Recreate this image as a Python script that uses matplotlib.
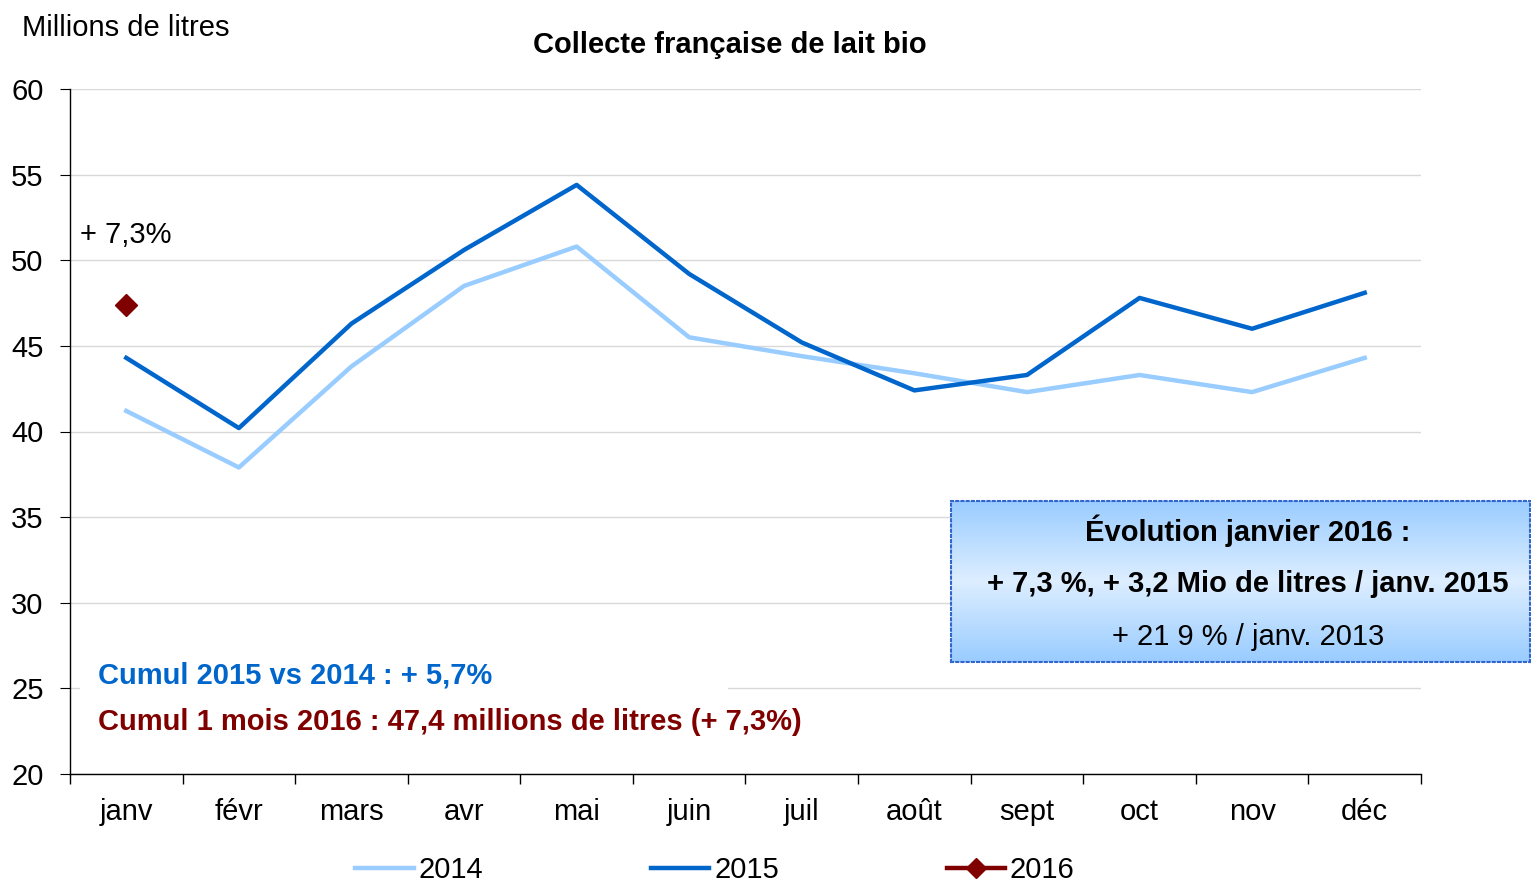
import matplotlib
matplotlib.use("Agg")
import matplotlib.pyplot as plt
import numpy as np
from matplotlib.patches import Rectangle

plt.rcParams['font.family'] = ['Liberation Sans', 'DejaVu Sans']

months = ["janv", "févr", "mars", "avr", "mai", "juin", "juil", "août", "sept", "oct", "nov", "déc"]
v2014 = [41.2, 37.9, 43.8, 48.5, 50.8, 45.5, 44.4, 43.4, 42.3, 43.3, 42.3, 44.3]
v2015 = [44.3, 40.2, 46.3, 50.6, 54.4, 49.2, 45.2, 42.4, 43.3, 47.8, 46.0, 48.1]
v2016 = [47.4]

fig = plt.figure(figsize=(15.31, 8.85), dpi=100)
ax = fig.add_axes([70/1531, 1-774/885, (1421-70)/1531, (774-89)/885])

x = np.arange(len(months))
ax.plot(x, v2014, color="#99CCFF", lw=3.2, label="2014")
ax.plot(x, v2015, color="#0066CC", lw=3.2, label="2015")
ax.plot(x[:len(v2016)], v2016, color="#800000", lw=3.2, marker="D", ms=11, label="2016")

ax.set_xlim(-0.5, 11.5)
ax.set_ylim(20, 60)
ax.set_yticks(range(20, 61, 5))
ax.yaxis.grid(True, color="#D9D9D9", lw=1)
ax.set_axisbelow(True)
ax.set_xticks(x)
ax.set_xticklabels(months)
ax.set_xticks(np.arange(-0.5, 12, 1), minor=True)
ax.tick_params(axis="x", which="major", length=0, pad=17, labelsize=21)
ax.tick_params(axis="x", which="minor", length=7, direction="out", width=1)
ax.tick_params(axis="y", length=7, direction="out", labelsize=21, pad=12)
for s in ["top", "right"]:
    ax.spines[s].set_visible(False)
for s in ["left", "bottom"]:
    ax.spines[s].set_color("black")
    ax.spines[s].set_linewidth(1)

dy = 2
fig.text(22/1531, 1-(26+dy)/885, "Millions de litres", fontsize=21, va="center", ha="left")
fig.text(730/1531, 1-(43+dy)/885, "Collecte française de lait bio", fontsize=21, fontweight="bold", va="center", ha="center")

ax.text(80/1531, 1-(233+dy)/885, "+ 7,3%", transform=fig.transFigure, fontsize=21, va="center", ha="left")

# white box behind cumul texts
fig.patches.append(Rectangle((80/1531, 1-745/885), (728-80)/1531, (745-650)/885,
                             transform=fig.transFigure, facecolor="white", edgecolor="none", zorder=1))
fig.text(98/1531, 1-(673+dy)/885, "Cumul 2015 vs 2014 : + 5,7%", color="#0066CC", fontsize=21,
         fontweight="bold", va="center", ha="left")
fig.text(98/1531, 1-(720+dy)/885, "Cumul 1 mois 2016 : 47,4 millions de litres (+ 7,3%)", color="#800000",
         fontsize=21, fontweight="bold", va="center", ha="left")

# gradient box
bx0, by0, bx1, by1 = 951/1531, 1-662/885, 1530/1531, 1-501/885
gax = fig.add_axes([bx0, by0, bx1-bx0, by1-by0])
t = np.linspace(0, 1, 256)
c_dark = np.array([0x99, 0xCC, 0xFF]) / 255
c_light = np.array([0xDD, 0xEE, 0xFF]) / 255
w = 1 - np.abs(t - 0.5) * 2
grad = c_dark[None, :] * (1 - w[:, None]) + c_light[None, :] * w[:, None]
gax.imshow(grad[:, None, :], aspect="auto", extent=[0, 1, 0, 1])
gax.set_xlim(0, 1); gax.set_ylim(0, 1)
gax.set_xticks([]); gax.set_yticks([])
for s in gax.spines.values():
    s.set_edgecolor("#3366CC")
    s.set_linestyle((0, (1, 1.5)))
    s.set_linewidth(1.5)
cx = 1248/1531
fig.text(cx, 1-(529+dy)/885, "Évolution janvier 2016 :", fontsize=21, fontweight="bold", ha="center", va="center")
fig.text(cx, 1-(582+dy)/885, "+ 7,3 %, + 3,2 Mio de litres / janv. 2015", fontsize=21, fontweight="bold", ha="center", va="center")
fig.text(cx, 1-(635+dy)/885, "+ 21 9 % / janv. 2013", fontsize=21, ha="center", va="center")

leg = ax.legend(loc="center", bbox_to_anchor=(715/1531, 1-870/885), bbox_transform=fig.transFigure,
                ncol=3, frameon=False, fontsize=21, handlelength=2.0, handletextpad=0.17,
                columnspacing=5.75, borderaxespad=0, markerscale=0.9)

fig.savefig("out.png", dpi=100)
